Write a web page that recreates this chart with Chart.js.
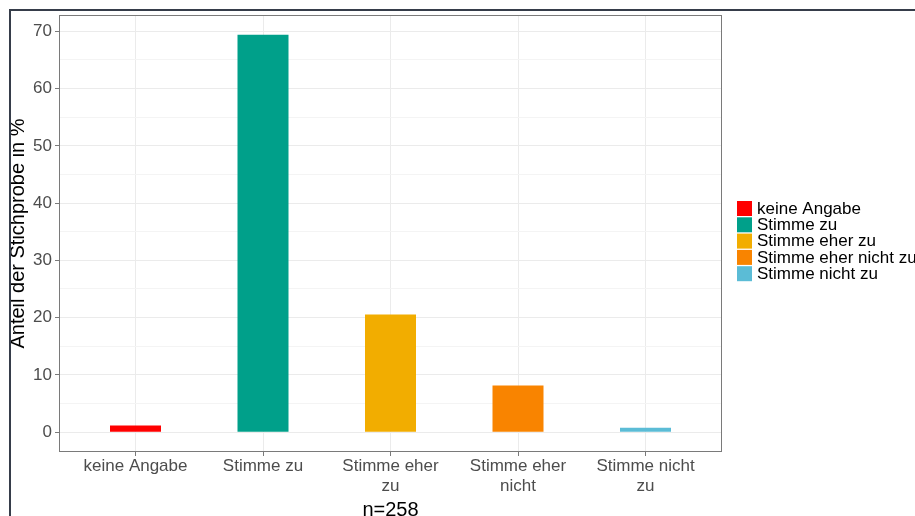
<!DOCTYPE html>
<html><head><meta charset="utf-8">
<script src="https://cdn.jsdelivr.net/npm/chart.js@4"></script>
<style>
html,body{margin:0;padding:0;background:#fff;}
#wrap{position:relative;width:915px;height:516px;overflow:hidden;}
#frame{position:absolute;left:9px;top:9px;width:1000px;height:600px;border-top:2px solid #363d4a;border-left:2px solid #363d4a;pointer-events:none;}
canvas{position:absolute;left:0;top:0;}
</style></head><body>
<div id="wrap"><canvas id="c" width="915" height="516"></canvas><div id="frame"></div></div>
<script>
const categories = ["keine Angabe","Stimme zu","Stimme eher zu","Stimme eher nicht zu","Stimme nicht zu"];
const tickLabels = [["keine Angabe"],["Stimme zu"],["Stimme eher","zu"],["Stimme eher","nicht"],["Stimme nicht","zu"]];
const values = [1.16, 69.38, 20.54, 8.14, 0.78];
const colors = ["#FF0000","#00A08A","#F2AD00","#F98400","#5BBCD6"];
const yTitle = "Anteil der Stichprobe in %";
const xTitle = "n=258";

const FONT = "'Liberation Sans', Arial, Helvetica, sans-serif";

const panelBorder = {
  id:'panelBorder',
  afterDatasetsDraw(chart){
    const {ctx, chartArea:a} = chart;
    ctx.save();
    ctx.strokeStyle = '#7a7a7a';
    ctx.lineWidth = 1;
    ctx.strokeRect(Math.round(a.left)+0.5, Math.round(a.top)+0.5, Math.round(a.right-a.left)-1, Math.round(a.bottom-a.top)-1);
    ctx.restore();
  }
};
const customLegend = {
  id:'customLegend',
  afterDraw(chart){
    const ctx = chart.ctx;
    const labels = chart.data.labels;
    const bg = chart.data.datasets[0].backgroundColor;
    const x0 = 737, y0 = 201, row = 16.3;
    ctx.save();
    ctx.font = "17px " + FONT;
    ctx.textBaseline = 'middle';
    ctx.textAlign = 'left';
    labels.forEach((l,i)=>{
      const y = y0 + i*row;
      ctx.fillStyle = bg[i];
      ctx.fillRect(x0, y, 15, 15);
      ctx.fillStyle = '#000';
      ctx.fillText(l, 757, y + 8);
    });
    ctx.restore();
  }
};

new Chart(document.getElementById('c'), {
  type:'bar',
  data:{
    labels: categories,
    datasets:[{
      data: values.map((v,i)=>({x:i, y:v})),
      backgroundColor: colors,
      borderWidth:0,
      categoryPercentage:1,
      barPercentage:0.4
    }]
  },
  options:{
    responsive:false,
    animation:false,
    devicePixelRatio:1,
    layout:{padding:{left:0, right:193, top:15, bottom:0}},
    plugins:{legend:{display:false}, tooltip:{enabled:false}},
    scales:{
      x:{
        type:'linear', min:-0.6, max:4.6, offset:false,
        afterFit(s){ s.height = 64; },
        ticks:{stepSize:1, includeBounds:false, autoSkip:false, maxRotation:0, padding:1,
          color:'#4d4d4d', font:{family:FONT, size:17, lineHeight:1.13},
          callback:(v)=> Number.isInteger(v) && tickLabels[v] ? tickLabels[v] : ''},
        grid:{offset:false, color:'#ebebeb', lineWidth:1, tickLength:4, tickColor:'#7a7a7a'},
        border:{display:false},
        title:{display:true, text:xTitle, color:'#000', font:{family:FONT, size:20, lineHeight:1}, padding:{top:0,bottom:-4}}
      },
      y:{
        type:'linear', min:-3.47, max:72.85,
        afterFit(s){ s.width = 59; },
        ticks:{stepSize:5, includeBounds:false, padding:3, color:'#4d4d4d', font:{family:FONT, size:17},
          callback:(v)=> (Math.round(v) % 10 === 0) ? String(Math.round(v)) : ''},
        grid:{
          color:(c)=> (c.tick && Math.round(c.tick.value)%10===0) ? '#ebebeb' : '#f4f4f4',
          lineWidth:1, tickLength:4,
          tickColor:(c)=> (c.tick && Math.round(c.tick.value)%10===0) ? '#7a7a7a' : 'rgba(0,0,0,0)'
        },
        border:{display:false},
        title:{display:true, text:yTitle, color:'#000', font:{family:FONT, size:20, lineHeight:1}, padding:{top:8,bottom:0}}
      }
    }
  },
  plugins:[panelBorder, customLegend]
});
</script>
</body></html>
